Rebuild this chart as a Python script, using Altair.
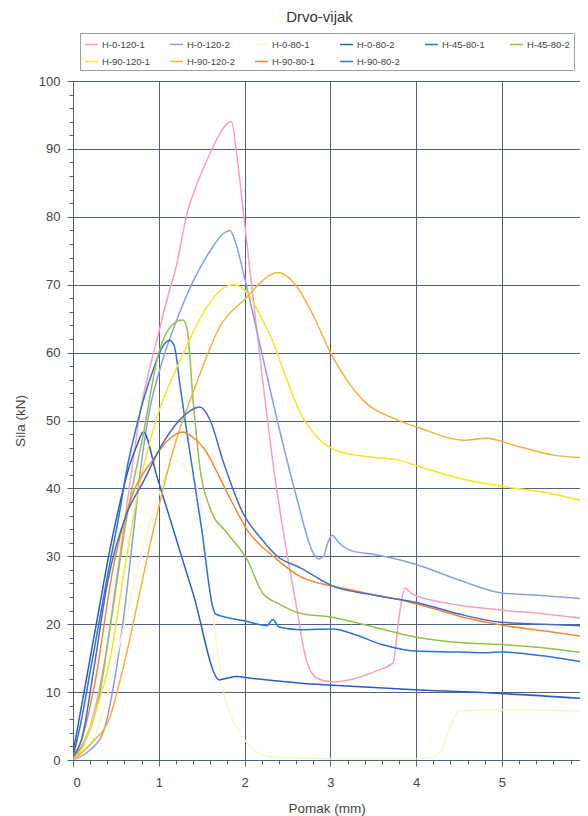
import altair as alt
import pandas as pd

series_names = ["H-0-120-1", "H-0-120-2", "H-0-80-1", "H-0-80-2", "H-45-80-1",
                "H-45-80-2", "H-90-120-1", "H-90-120-2", "H-90-80-1", "H-90-80-2"]
series_colors = ["#f2a0c4", "#8c9ee0", "#fbf6d2", "#2a5cc8", "#2b74d6",
                 "#92c24a", "#f5e52a", "#f2b33c", "#f08a3a", "#4a68c4"]

# H-0-120-1
h0_120_1_x = [0, 0.1, 0.2, 0.3, 0.4, 0.5, 0.6, 0.7, 0.78, 0.9, 1.0, 1.1, 1.2, 1.33, 1.45, 1.6, 1.7, 1.78, 1.85,
              1.9, 1.98, 2.1, 2.21, 2.35, 2.5, 2.6, 2.72, 2.85, 3.03, 3.34, 3.55, 3.73, 3.8, 3.87, 3.95, 4.2, 4.5,
              4.98, 5.5, 6.0]
h0_120_1_y = [0, 2, 5, 10, 17, 26, 35, 44, 51, 58, 63, 68, 72.5, 80.5, 85, 89.4, 92, 93.5, 94,
              90, 81.4, 68, 56, 42, 30, 23, 14.7, 12, 11.5, 12.2, 13.2, 14.3, 21, 25.3, 24.5, 23.5, 22.8,
              22.1, 21.5, 20.8]
# H-0-120-2
h0_120_2_x = [0, 0.2, 0.35, 0.5, 0.6, 0.7, 0.8, 0.9, 1.0, 1.2, 1.4, 1.6, 1.75, 1.83, 1.9, 2.0, 2.2, 2.4, 2.6,
              2.8, 2.86, 2.92, 2.97, 3.02, 3.1, 3.25, 3.5, 4.0, 4.5, 5.0, 5.5, 6.0]
h0_120_2_y = [0, 1.5, 4, 13, 22, 33, 44, 52, 57, 64.5, 70.5, 75, 77.5, 78, 76, 71, 60, 49, 39,
              30.5, 29.6, 30, 32, 33.1, 32, 30.8, 30.3, 28.8, 26.5, 24.6, 24.2, 23.7]
# H-0-80-1
h0_80_1_x = [0, 0.3, 0.6, 0.9, 1.2, 1.45, 1.6, 1.75, 1.9, 2.03, 2.33, 3.0, 4.0, 4.2, 4.3, 4.4, 4.5, 5.0, 6.0]
h0_80_1_y = [0, 5, 20, 35, 44, 40, 25, 10.3, 5, 2.5, 0.4, 0.2, 0.2, 0.5, 1.5, 5, 7.2, 7.4, 7.2]
# H-0-80-2
h0_80_2_x = [0, 0.1, 0.2, 0.3, 0.43, 0.55, 0.65, 0.75, 0.82, 0.98, 1.4, 1.71, 1.78, 1.9, 2.1, 2.65, 3.03, 4.04,
             4.98, 6.0]
h0_80_2_y = [1, 8, 15, 22, 31, 38, 43, 46.5, 48.3, 41.7, 24.5, 11.8, 12, 12.3, 12, 11.3, 11, 10.3,
             9.8, 9.0]
# H-45-80-1
h45_80_1_x = [0, 0.1, 0.2, 0.3, 0.4, 0.55, 0.63, 0.7, 0.82, 0.95, 1.05, 1.13, 1.18, 1.25, 1.33, 1.5, 1.63, 1.66,
              2.0, 2.26, 2.33, 2.4, 2.65, 3.03, 3.3, 3.6, 4.04, 4.5, 4.74, 5.0, 5.5, 6.0]
h45_80_1_y = [0.5, 6, 13, 20, 27, 37, 43, 47, 53, 58, 61, 61.8, 61, 55, 48, 34, 22.5, 21.5,
              20.5, 19.8, 20.7, 19.6, 19.2, 19.3, 18.4, 17, 16, 15.9, 15.8, 15.9, 15.3, 14.3]
# H-45-80-2
h45_80_2_x = [0, 0.15, 0.3, 0.45, 0.63, 0.82, 1.0, 1.15, 1.28, 1.33, 1.4, 1.48, 1.6, 1.8, 2.03, 2.21, 2.4,
              2.65, 3.03, 3.5, 4.04, 4.5, 4.98, 5.5, 6.0]
h45_80_2_y = [0.5, 3, 9, 21, 36, 48, 60, 64, 64.8, 63.5, 53, 43, 37, 33.4, 29.5, 24.6, 23,
              21.6, 21, 19.6, 18, 17.3, 17, 16.5, 15.7]
# H-90-120-1
h90_120_1_x = [0, 0.1, 0.23, 0.43, 0.6, 0.78, 0.98, 1.25, 1.56, 1.75, 1.87, 2.03, 2.2, 2.33, 2.45, 2.65, 2.85,
               3.11, 3.5, 3.78, 4.04, 4.6, 5.06, 5.5, 6.0]
h90_120_1_y = [0, 1.5, 5.9, 14.7, 28, 40.8, 50.5, 58.9, 66.7, 69.5, 70, 68.8, 65, 61.6, 57.5, 51.1, 47.5,
               45.4, 44.6, 44.2, 43.2, 41.2, 40.2, 39.4, 38]
# H-90-120-2
h90_120_2_x = [0, 0.23, 0.43, 0.55, 0.63, 0.75, 0.86, 1.01, 1.17, 1.44, 1.71, 2.03, 2.2, 2.38, 2.5, 2.61, 2.8,
               3.0, 3.2, 3.38, 3.78, 4.04, 4.55, 4.82, 5.13, 5.6, 6.0]
h90_120_2_y = [0, 2.7, 6.3, 11.8, 16, 23, 29.5, 37.8, 45.7, 55.5, 63.8, 68.2, 70.5, 71.8, 71.2, 69.7, 65.5,
               60, 55.8, 53, 50.1, 48.9, 47.1, 47.4, 46.4, 44.9, 44.5]
# H-90-80-1
h90_80_1_x = [0, 0.1, 0.25, 0.47, 0.7, 0.93, 1.1, 1.28, 1.4, 1.52, 1.8, 2.03, 2.38, 2.65, 2.88, 3.03, 3.4,
              3.81, 4.2, 4.59, 4.98, 5.5, 6.0]
h90_80_1_y = [0.5, 3, 11, 28.4, 39.3, 44.2, 47, 48.3, 47.5, 46, 39.3, 33.9, 29.5, 27, 26, 25.6, 24.6,
              23.6, 22.3, 20.9, 19.9, 19, 18.1]
# H-90-80-2
h90_80_2_x = [0, 0.1, 0.25, 0.4, 0.63, 0.82, 1.05, 1.3, 1.48, 1.6, 1.75, 1.98, 2.2, 2.38, 2.65, 3.03, 3.5,
              4.04, 4.5, 4.98, 5.5, 6.0]
h90_80_2_y = [0.5, 3, 14, 26, 36.4, 41, 46.7, 50.8, 52, 50, 44, 36.4, 32.5, 30, 28.3, 25.6, 24.3,
              23.1, 21.5, 20.3, 20, 19.7]

all_x = [h0_120_1_x, h0_120_2_x, h0_80_1_x, h0_80_2_x, h45_80_1_x,
         h45_80_2_x, h90_120_1_x, h90_120_2_x, h90_80_1_x, h90_80_2_x]
all_y = [h0_120_1_y, h0_120_2_y, h0_80_1_y, h0_80_2_y, h45_80_1_y,
         h45_80_2_y, h90_120_1_y, h90_120_2_y, h90_80_1_y, h90_80_2_y]

rows = []
for name, xs, ys in zip(series_names, all_x, all_y):
    for i, (xv, yv) in enumerate(zip(xs, ys)):
        rows.append({"series": name, "x": xv, "y": yv, "i": i})
df = pd.DataFrame(rows)

x_major = [0, 1, 2, 3, 4, 5, 6]
x_minor = [0.2, 0.4, 0.6, 0.8, 1.2, 1.4, 1.6, 1.8, 2.2, 2.4, 2.6, 2.8, 3.2, 3.4, 3.6, 3.8,
           4.2, 4.4, 4.6, 4.8, 5.2, 5.4, 5.6, 5.8]
y_major = [0, 10, 20, 30, 40, 50, 60, 70, 80, 90, 100]
y_minor = [v for v in range(2, 100, 2) if v % 10 != 0]

FONT = "Liberation Sans"
GRID = "#53617e"
xscale = alt.Scale(domain=[0, 5.91], nice=False, zero=False)
yscale = alt.Scale(domain=[0, 100], nice=False)
color_scale = alt.Scale(domain=series_names, range=series_colors)

lines = alt.Chart(df).mark_line(strokeWidth=1.5, clip=True, interpolate="monotone").encode(
    x=alt.X("x:Q", scale=xscale, axis=alt.Axis(
        values=x_major, title="Pomak (mm)", orient="bottom", grid=True, gridColor=GRID, gridWidth=1,
        domainColor=GRID, tickColor=GRID, tickSize=6, labelPadding=10, labelFont=FONT, labelFontSize=13,
        labelColor="#444", titleFont=FONT, titleFontSize=13.5, titleFontWeight="normal", titleColor="#444",
        titleY=48, titleBaseline="middle", format="d")),
    y=alt.Y("y:Q", scale=yscale, axis=alt.Axis(
        values=y_major, title="Sila (kN)", orient="left", grid=True, gridColor=GRID, gridWidth=1,
        domainColor=GRID, tickColor=GRID, tickSize=6, labelPadding=7, labelFont=FONT, labelFontSize=13,
        labelColor="#444", titleFont=FONT, titleFontSize=13.5, titleFontWeight="normal", titleColor="#444",
        titleX=-53, titleBaseline="middle")),
    color=alt.Color("series:N", scale=color_scale, legend=alt.Legend(
        title=None, orient="none", legendX=7, legendY=-48, direction="horizontal", columns=6,
        symbolType="stroke", symbolSize=169, symbolStrokeWidth=1.5, labelFontSize=9.5, labelFont=FONT,
        labelColor="#444", padding=4, rowPadding=5, columnPadding=16, gridAlign="all",
        strokeColor="#9aa0aa", fillColor="white", labelOffset=3)),
    order="i:Q",
)

minor = alt.Chart(df).mark_line(opacity=0).encode(
    x=alt.X("x:Q", scale=xscale, axis=alt.Axis(
        values=x_minor, labels=False, grid=False, domain=False, tickSize=4, tickColor=GRID,
        title=None, orient="bottom")),
    y=alt.Y("y:Q", scale=yscale, axis=alt.Axis(
        values=y_minor, labels=False, grid=False, domain=False, tickSize=4, tickColor=GRID,
        title=None, orient="left")),
    detail="series:N",
)

chart = alt.layer(minor, lines).resolve_axis(x="independent", y="independent").properties(
    width=507, height=679,
    title=alt.TitleParams("Drvo-vijak", fontSize=15, font=FONT, color="#333", fontWeight="normal",
                          anchor="middle", frame="group", offset=8, dx=-7),
    autosize=alt.AutoSizeParams(type="none"),
    padding={"left": 65, "top": 73, "right": 0, "bottom": 56},
).configure_view(stroke=None).configure(background="white")

chart.save("out.html", embed_options={"renderer": "svg", "actions": False})
